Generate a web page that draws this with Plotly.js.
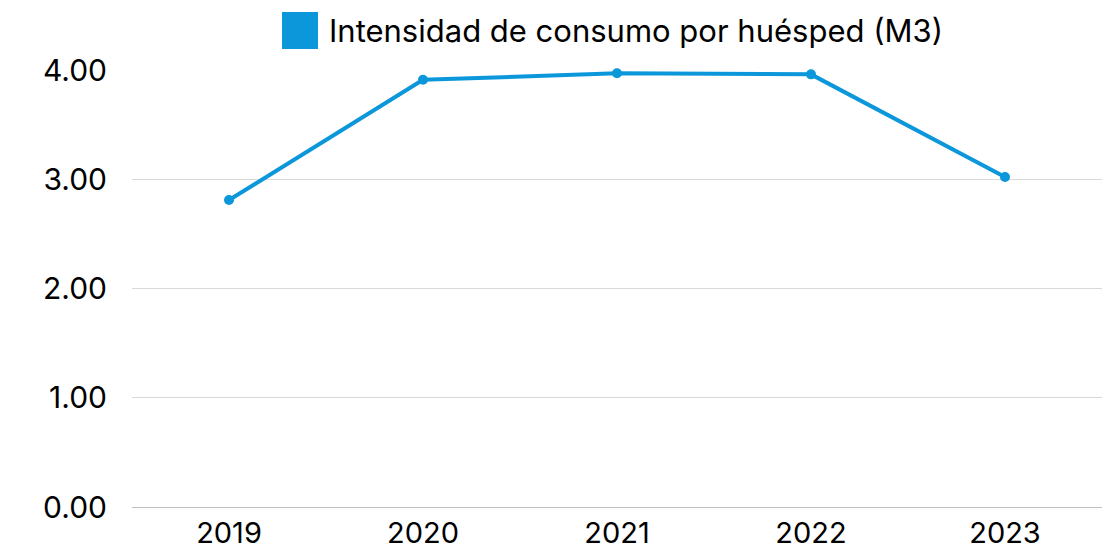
<!DOCTYPE html>
<html>
<head>
<meta charset="utf-8">
<script src="https://cdn.plot.ly/plotly-3.0.1.min.js"></script>
<style>html,body{margin:0;padding:0;background:#fff;}#chart{width:1111px;height:554px;}</style>
</head>
<body>
<div id="chart"></div>
<script>
const years = ['2019', '2020', '2021', '2022', '2023'];
const intensidad = [2.81, 3.91, 3.97, 3.96, 3.02];
const seriesName = 'Intensidad de consumo por huésped (M3)';
const yTicks = [0, 1, 2, 3, 4];
const yTickLabels = ['0.00', '1.00', '2.00', '3.00', '4.00'];

const color = '#0C97DB';
const fontFamily = 'Inter, "Open Sans", sans-serif';

const trace = {
  type: 'scatter',
  mode: 'lines+markers',
  x: years,
  y: intensidad,
  name: seriesName,
  line: {color: color, width: 4},
  marker: {color: color, size: 10},
  cliponaxis: false,
  showlegend: false,
  hoverinfo: 'x+y'
};

const layout = {
  width: 1111,
  height: 554,
  margin: {l: 132, r: 9, t: 70, b: 47},
  paper_bgcolor: '#fff',
  plot_bgcolor: '#fff',
  font: {family: fontFamily, color: '#000', size: 30},
  showlegend: false,
  xaxis: {
    type: 'category',
    range: [-0.5, 4.5],
    showgrid: false,
    showline: true,
    linecolor: '#bfbfbf',
    linewidth: 1,
    ticks: '',
    tickfont: {size: 29, color: '#000'},
    zeroline: false
  },
  yaxis: {
    range: [0, 4],
    tickvals: yTicks,
    ticktext: yTickLabels,
    showgrid: true,
    gridcolor: '#d9d9d9',
    gridwidth: 1,
    zeroline: false,
    showline: false,
    ticks: 'outside',
    ticklen: 18,
    tickcolor: 'rgba(0,0,0,0)',
    tickfont: {size: 30, color: '#000'}
  },
  shapes: [{
    type: 'rect', xref: 'paper', yref: 'paper',
    x0: (282 - 132) / 970, x1: (318 - 132) / 970,
    y0: 1 + (70 - 49) / 437, y1: 1 + (70 - 12) / 437,
    fillcolor: color, line: {width: 0}
  }],
  annotations: [{
    xref: 'paper', yref: 'paper',
    x: (327 - 132) / 970, y: 1 + (70 - 31) / 437,
    xanchor: 'left', yanchor: 'middle',
    text: seriesName, showarrow: false,
    font: {size: 31, color: '#000', family: fontFamily}
  }]
};

Plotly.newPlot('chart', [trace], layout, {displayModeBar: false, staticPlot: true});
</script>
</body>
</html>
